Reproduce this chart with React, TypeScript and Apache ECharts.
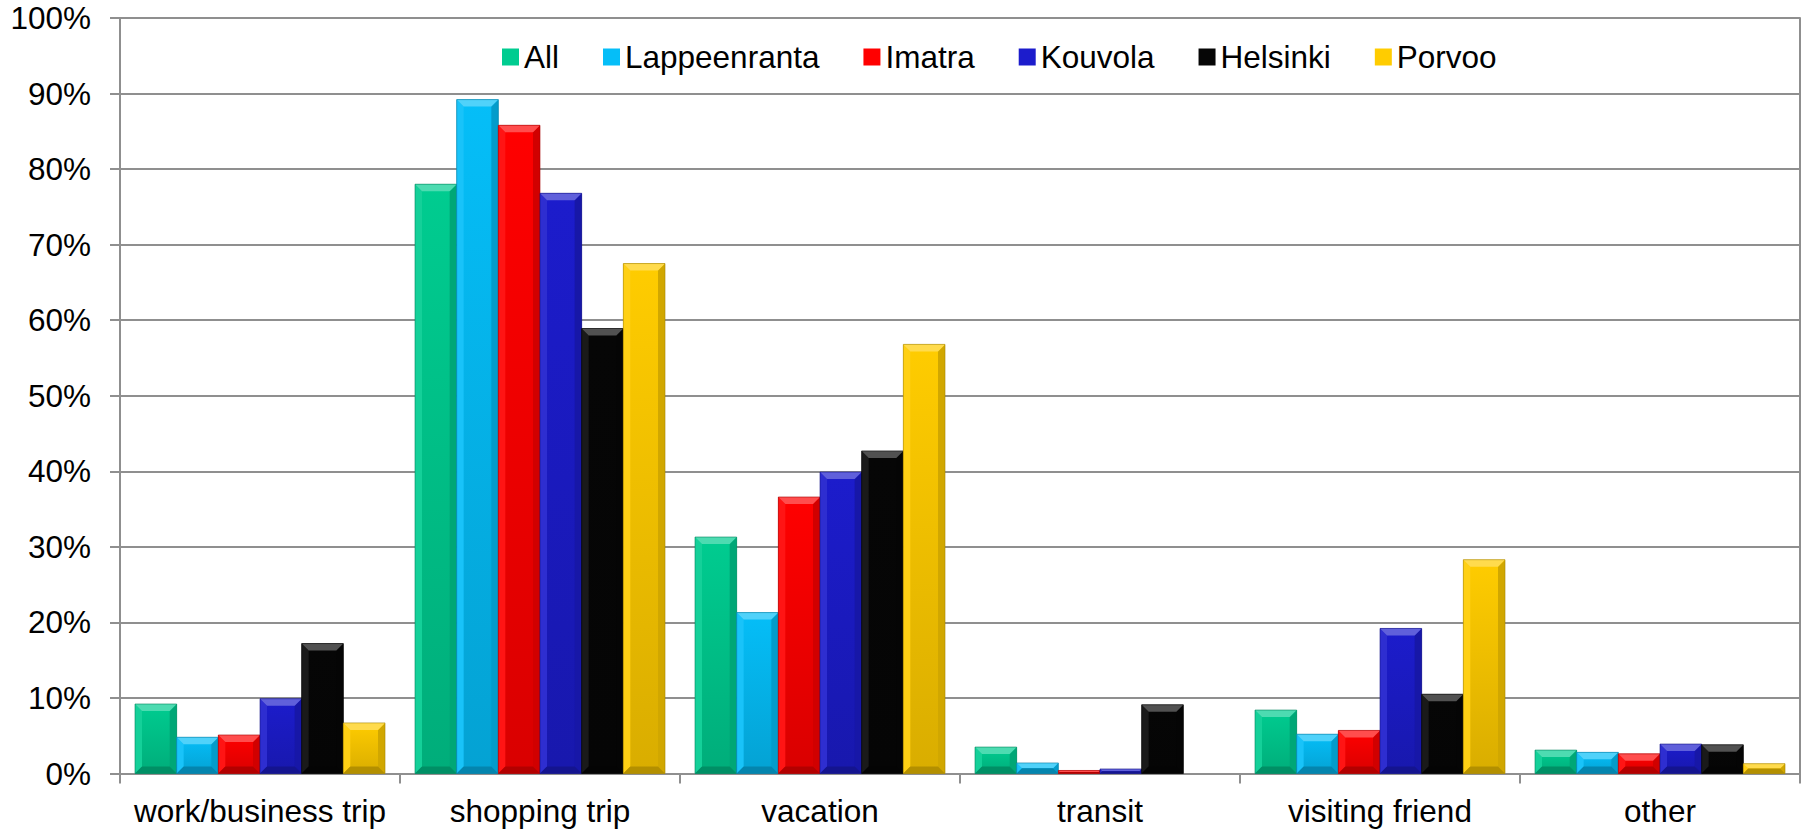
import React, { useEffect, useRef } from "react";
import * as echarts from "echarts";

const categories = ["work/business trip", "shopping trip", "vacation", "transit", "visiting friend", "other"];
const seriesNames = ["All", "Lappeenranta", "Imatra", "Kouvola", "Helsinki", "Porvoo"];

const allValues = [9.2, 78.0, 31.3, 3.5, 8.4, 3.1];
const lappeenrantaValues = [4.8, 89.2, 21.3, 1.4, 5.2, 2.8];
const imatraValues = [5.1, 85.8, 36.6, 0.4, 5.7, 2.6];
const kouvolaValues = [9.9, 76.8, 39.9, 0.6, 19.2, 3.9];
const helsinkiValues = [17.2, 58.9, 42.7, 9.1, 10.5, 3.8];
const porvooValues = [6.7, 67.5, 56.8, 0, 28.3, 1.3];

const yTicks = { min: 0, max: 100, interval: 10 };

const baseColors = ["#00CC90", "#05BEF8", "#FF0000", "#1C1CCC", "#060606", "#FFCC00"];

function shade(hex: string, amt: number): string {
  const n = parseInt(hex.slice(1), 16);
  let r = (n >> 16) & 255, g = (n >> 8) & 255, b = n & 255;
  const f = (c: number) =>
    amt >= 0 ? Math.round(c + (255 - c) * amt) : Math.round(c * (1 + amt));
  r = f(r); g = f(g); b = f(b);
  return "#" + [r, g, b].map((c) => c.toString(16).padStart(2, "0")).join("");
}

const palette = baseColors.map((c) => ({
  base: c,
  low: shade(c, -0.15),
  top: shade(c, 0.3),
  bottom: shade(c, -0.3),
  left: shade(c, 0.08),
  right: shade(c, -0.18),
  edge: shade(c, -0.35),
}));

const CAT_GAP = 15 / 280;
const FONT = "'Liberation Sans', Arial, sans-serif";
const FS = 31.5;

const renderBar = (params: any, api: any) => {
  const si = params.seriesIndex;
  const cat = api.value(0);
  const val = api.value(1);
  const topPt = api.coord([cat, val]);
  const basePt = api.coord([cat, 0]);
  const band = api.size([1, 0])[0];
  const gap = band * CAT_GAP;
  const bw = (band - 2 * gap) / seriesNames.length;
  const x0 = basePt[0] - band / 2 + gap + si * bw;
  const x1 = x0 + bw;
  const y0 = topPt[1];
  const y1 = basePt[1];
  const h = y1 - y0;
  if (h <= 0.2) return null;
  const b = Math.min(7, h / 2, bw / 2);
  const c = palette[si];
  return {
    type: "group",
    children: [
      {
        type: "rect",
        shape: { x: x0, y: y0, width: bw, height: h },
        style: {
          fill: new echarts.graphic.LinearGradient(0, 0, 0, 1, [
            { offset: 0, color: c.base },
            { offset: 1, color: c.low },
          ]),
        },
      },
      {
        type: "polygon",
        shape: { points: [[x0, y0], [x0 + b, y0 + b], [x0 + b, y1 - b], [x0, y1]] },
        style: { fill: c.left },
      },
      {
        type: "polygon",
        shape: { points: [[x1, y0], [x1 - b, y0 + b], [x1 - b, y1 - b], [x1, y1]] },
        style: { fill: c.right },
      },
      {
        type: "polygon",
        shape: { points: [[x0, y0], [x1, y0], [x1 - b, y0 + b], [x0 + b, y0 + b]] },
        style: { fill: c.top },
      },
      {
        type: "polygon",
        shape: { points: [[x0, y1], [x1, y1], [x1 - b, y1 - b], [x0 + b, y1 - b]] },
        style: { fill: c.bottom },
      },
      {
        type: "rect",
        shape: { x: x0, y: y0, width: bw, height: h },
        style: { fill: "none", stroke: c.edge, lineWidth: 1, opacity: 0.6 },
      },
    ],
  };
};

export default function App() {
  const ref = useRef<HTMLDivElement>(null);
  useEffect(() => {
    document.body.style.margin = "0";
    if (!ref.current) return;
    const chart = echarts.init(ref.current, undefined, { renderer: "svg" });
    const valueSets = [allValues, lappeenrantaValues, imatraValues, kouvolaValues, helsinkiValues, porvooValues];
    const gridColor = "#8f8f8f";
    chart.setOption({
      animation: false,
      backgroundColor: "#ffffff",
      textStyle: { fontFamily: FONT },
      grid: { left: 120, right: 4, top: 18, bottom: 55.5, containLabel: false },
      legend: {
        left: 497,
        top: 36,
        itemWidth: 17,
        itemHeight: 17,
        itemGap: 44,
        icon: "rect",
        textStyle: { fontSize: FS, color: "#000", fontFamily: FONT },
        data: seriesNames,
      },
      xAxis: {
        type: "category",
        data: categories,
        boundaryGap: true,
        axisLine: { lineStyle: { color: gridColor, width: 2 } },
        axisTick: { show: true, length: 10, interval: 0, lineStyle: { color: gridColor, width: 2 } },
        axisLabel: { interval: 0, fontSize: FS, color: "#000", margin: 21, fontFamily: FONT },
      },
      yAxis: [
        {
          type: "value",
          min: yTicks.min,
          max: yTicks.max,
          interval: yTicks.interval,
          axisLine: { show: true, lineStyle: { color: gridColor, width: 2 } },
          axisTick: { show: true, length: 10, lineStyle: { color: gridColor, width: 2 } },
          splitLine: { show: true, lineStyle: { color: gridColor, width: 2 } },
          axisLabel: { formatter: "{value}%", fontSize: FS, color: "#000", margin: 29, fontFamily: FONT },
        },
        {
          type: "value",
          position: "right",
          min: yTicks.min,
          max: yTicks.max,
          interval: yTicks.interval,
          axisLine: { show: true, lineStyle: { color: gridColor, width: 2 } },
          axisTick: { show: false },
          splitLine: { show: false },
          axisLabel: { show: false },
        },
      ],
      series: seriesNames.map((name, si) => ({
        name,
        type: "custom",
        renderItem: renderBar,
        itemStyle: { color: baseColors[si] },
        encode: { x: 0, y: 1 },
        data: valueSets[si].map((v, i) => [i, v]),
        z: 3,
      })),
    });
    return () => chart.dispose();
  }, []);
  return <div ref={ref} style={{ width: 1804, height: 829 }} />;
}
